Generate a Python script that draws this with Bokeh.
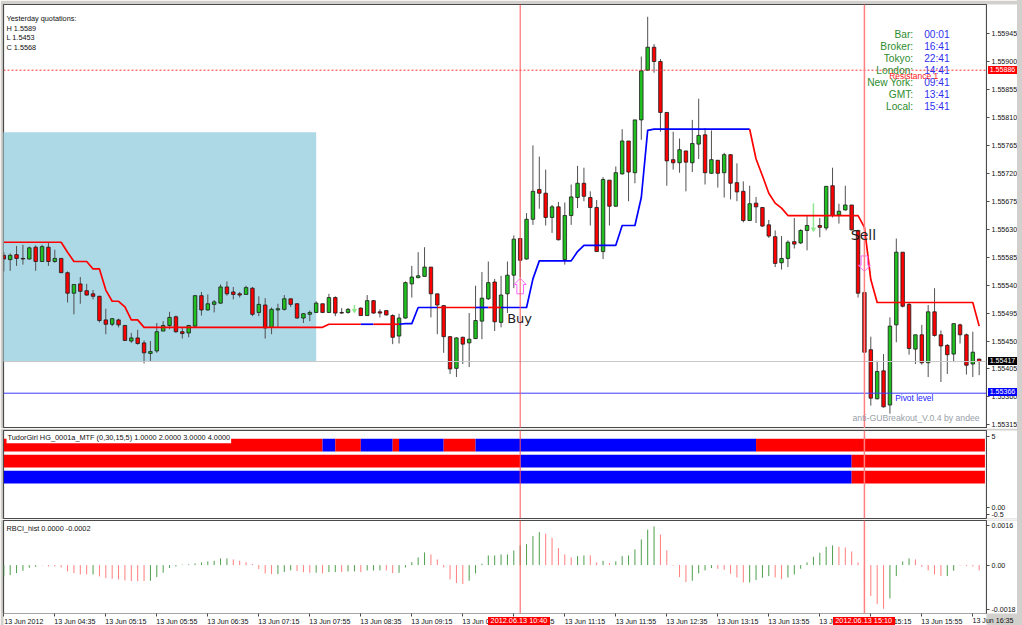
import numpy as np
from bokeh.plotting import figure
from bokeh.layouts import column
from bokeh.embed import file_html
from bokeh.resources import INLINE
from bokeh.models import Range1d, FixedTicker, Span, Label, Div

# ---------- data: prices are given as points above 1.50000 (1 = 0.00001) ----------
candle_high = [5593,5591,5603,5605,5602,5604,5605,5608,5597,5583,5562,5541,5553,5542,5532,5523,5502,5487,5486,5476,5463,5468,5451,5450,5479,5482,5497,5491,5472,5476,
 5524,5529,5525,5516,5541,5546,5537,5529,5539,5537,5522,5519,5504,5510,5524,5518,5511,5495,5499,5514,5510,5526,5522,5503,5503,5508,5504,5524,5516,5501,
 5499,5493,5494,5546,5571,5593,5601,5569,5526,5508,5458,5456,5457,5495,5539,5561,5578,5550,5555,5578,5620,5616,5656,5765,5747,5726,5669,5674,5673,5702,
 5732,5729,5691,5677,5714,5709,5731,5791,5772,5806,5908,5972,5928,5904,5818,5787,5776,5756,5806,5840,5793,5789,5741,5753,5751,5736,5707,5700,5682,5665,
 5645,5628,5619,5612,5648,5630,5651,5672,5648,5699,5729,5671,5700,5669,5629,5531,5457,5418,5429,5488,5615,5593,5512,5460,5476,5508,5535,5467,5445,5478,
 5478,5462,5465,5421]
body_top = [5588,5588,5589,5583,5600,5601,5602,5601,5583,5583,5560,5541,5542,5531,5526,5522,5484,5486,5484,5475,5455,5455,5447,5433,5465,5475,5488,5489,5465,5475,
 5523,5523,5510,5513,5537,5537,5529,5526,5536,5535,5509,5508,5501,5502,5518,5518,5510,5494,5496,5511,5510,5520,5520,5496,5501,5499,5503,5515,5515,5497,
 5499,5491,5487,5544,5553,5555,5569,5569,5526,5507,5457,5455,5456,5453,5483,5519,5544,5545,5524,5556,5614,5615,5646,5691,5694,5688,5666,5666,5652,5682,
 5704,5704,5681,5665,5710,5709,5721,5772,5772,5806,5885,5923,5923,5900,5818,5742,5758,5756,5768,5781,5782,5742,5741,5750,5750,5705,5691,5671,5672,5665,
 5637,5618,5583,5609,5610,5628,5636,5630,5636,5699,5700,5659,5669,5669,5628,5528,5436,5401,5402,5474,5593,5593,5509,5460,5460,5497,5497,5460,5443,5478,
 5476,5460,5432,5421]
body_bottom = [5582,5581,5583,5582,5582,5578,5578,5578,5578,5560,5527,5527,5530,5524,5522,5483,5477,5477,5476,5451,5450,5446,5431,5430,5434,5466,5475,5465,5462,5463,
 5474,5500,5500,5509,5511,5526,5525,5524,5525,5493,5496,5471,5472,5500,5501,5509,5487,5487,5493,5496,5496,5496,5495,5495,5496,5499,5491,5491,5495,5495,
 5492,5456,5458,5487,5542,5552,5554,5526,5508,5457,5405,5406,5445,5447,5454,5482,5518,5481,5480,5526,5556,5580,5582,5646,5688,5649,5649,5613,5581,5652,
 5681,5683,5665,5594,5594,5667,5667,5719,5722,5721,5806,5886,5900,5818,5740,5737,5737,5738,5737,5767,5721,5720,5720,5721,5704,5690,5644,5644,5666,5635,
 5619,5575,5576,5583,5606,5608,5628,5630,5633,5632,5652,5653,5661,5629,5527,5432,5358,5357,5344,5347,5476,5506,5438,5437,5415,5415,5459,5442,5428,5429,
 5460,5411,5413,5417]
candle_low = [5562,5563,5571,5573,5581,5563,5578,5571,5576,5560,5512,5493,5510,5523,5517,5480,5461,5474,5472,5450,5447,5444,5414,5418,5431,5466,5469,5463,5454,5456,
 5472,5491,5499,5496,5510,5523,5517,5520,5525,5490,5490,5454,5461,5472,5499,5505,5486,5479,5482,5495,5495,5495,5490,5494,5494,5499,5491,5491,5494,5488,
 5491,5445,5446,5486,5520,5551,5554,5488,5461,5431,5397,5392,5413,5408,5453,5453,5516,5466,5472,5495,5535,5553,5581,5637,5663,5636,5624,5612,5573,5637,
 5664,5675,5636,5594,5582,5636,5666,5718,5675,5704,5774,5885,5882,5787,5700,5726,5721,5691,5722,5743,5702,5719,5697,5681,5678,5675,5641,5644,5640,5634,
 5616,5569,5565,5569,5599,5606,5596,5630,5617,5628,5649,5639,5660,5628,5520,5432,5346,5356,5343,5333,5448,5504,5428,5413,5412,5392,5457,5384,5397,5416,
 5446,5396,5392,5395]
candle_green_idx = {1,4,6,8,11,17,20,23,24,25,26,29,30,32,33,34,38,40,42,43,44,47,48,49,51,54,57,62,63,64,65,66,71,73,74,75,76,78,79,80,82,83,86,88,89,90,
 94,96,97,99,100,101,106,108,109,111,113,117,122,123,125,126,129,131,132,137,139,140,143,145,149,152}
light_arrow_idx = {55,127}

stop_line = [5609]*10 + [5593,5578,5578,5578,5566,5566,5532,5514,5514,5505,5484,5484] + [5472]*29 + [5477]*12 + [5478]*2 + \
 [5504]*18 + [5550,5579,5579,5579,5579,5579,5579,5594] + [5604]*6 + [5636]*3 + [5681,5789] + [5791]*16 + \
 [5743,5716,5688,5672,5664] + [5652]*12 + [5633,5549] + [5512]*16 + [5474]
stop_color = ["red"]*56+["blue"]*2+["red"]*4+["blue"]*6+["red"]*6+["blue"]*2+["red"]*2+["blue"]*39+["red"]*37

tudor_row_bounds = [
    [(0,50,"red"),(50,52,"blue"),(52,56,"red"),(56,61,"blue"),(61,62,"red"),(62,69,"blue"),(69,74,"red"),(74,118,"blue"),(118,153.9,"red")],
    [(0,81,"red"),(81,133,"blue"),(133,153.9,"red")],
    [(0,133,"blue"),(133,153.9,"red")],
]
tudor_row_tops = [4.80,3.68,2.55]
tudor_row_bottoms = [3.91,2.78,1.65]

rbci_values = [-4.62,-4.08,-3.26,-2.31,-1.09,-0.68,-0.14,-0.54,-0.54,-0.95,-2.58,-3.26,-3.81,-3.81,-3.81,-4.62,-5.30,-5.58,-5.85,-6.26,
 -6.53,-6.53,-6.53,-6.39,-4.90,-3.13,-1.22,-0.54,0.2,0.3,0.68,1.09,1.50,1.77,2.72,2.72,2.31,1.77,1.22,0.41,
 -1.63,-3.40,-3.67,-3.67,-2.86,-2.18,-2.45,-2.86,-3.13,-3.13,-3.40,-2.86,-2.86,-2.86,-2.58,-2.58,-2.86,-2.18,-2.18,-2.18,
 -2.18,-3.26,-3.13,-0.95,1.22,3.13,5.17,4.35,2.31,-0.95,-5.85,-7.34,-7.75,-6.39,-3.40,0.54,3.94,3.94,4.35,4.35,
 5.98,8.02,8.57,11.83,13.46,12.78,11.15,6.94,4.35,3.13,3.67,3.94,3.94,1.09,1.77,0.82,1.50,3.67,3.94,6.39,
 10.47,14.42,15.78,12.51,5.98,-0.27,-4.90,-6.94,-6.39,-3.40,-2.18,-1.22,-1.50,-1.90,-3.54,-5.03,-7.07,-7.07,-6.12,-5.17,
 -4.49,-5.03,-5.71,-5.03,-3.81,-1.50,1.09,3.40,5.03,7.48,8.02,7.48,7.21,5.58,1.09,-6.94,-12.65,-15.91,-17.82,-13.60,
 -4.49,1.50,2.72,2.31,-0.68,-2.18,-3.81,-4.49,-4.49,-2.31,-0.14,-0.41,-0.54,-2.18]
rbci_green_idx = set(list(range(0,6))+[14]+list(range(23,36))+[43,44,45,49,51,52,54,55,57,58,59,62,63,64,65,66,73,74,75,76,77,78,79,80,81,82,83,84,
 90,91,94,96,97,98,99,100,101,102,108,109,110,111,117,118,119,120,123,124,125,126,127,128,129,130,139,140,141,142,148,149])

time_tick_bars = list(range(0,153,8))
time_labels = ["13 Jun 2012","13 Jun 04:35","13 Jun 05:15","13 Jun 05:55","13 Jun 06:35","13 Jun 07:15","13 Jun 07:55","13 Jun 08:35","13 Jun 09:15",
 "13 Jun 09:55","13 Jun 10:35","13 Jun 11:15","13 Jun 11:55","13 Jun 12:35","13 Jun 13:15","13 Jun 13:55","13 Jun 14:35","13 Jun 15:15","13 Jun 15:55","13 Jun 16:35"]
price_ticks = [1.55945,1.55900,1.55855,1.55810,1.55765,1.55720,1.55675,1.55630,1.55585,1.55540,1.55495,1.55450,1.55405,1.55360,1.55315]
resistance, current_price, pivot = 1.55886, 1.55417, 1.55366
signal_bars = [81,135]
signal_times = ["2012.06.13 10:40","2012.06.13 15:10"]
buy_tip, sell_tip = 5551, 5562
box_bars, box_top, box_bottom = (-1,49), 5786, 5417
clock_names = ["Bar:","Broker:","Tokyo:","London:","New York:","GMT:","Local:"]
clock_values = ["00:01","16:41","22:41","14:41","09:41","13:41","15:41"]

n = len(candle_high)
assert n == 154 and len(stop_line) == 154 and len(rbci_values) == 154, (n, len(stop_line), len(rbci_values))
bars = np.arange(n)
price = lambda a: 1.5 + np.asarray(a, float)/1e5

# ---------- layout helpers (screen px -> scale) ----------
GRAY = "#d2d0cc"; EDGE = "#4a4a4a"
BX = lambda px: (px-3.3)/6.375
PY = lambda py: 1.55886-(py-69.7)/62115
MY = lambda py: 5-(py-435.5)/14.2
RY = lambda py: (564.6-py)/24500
xr = Range1d(BX(3), BX(986))
TF = "Liberation Sans"

def mkfig(h, top, fh, yr, bottom=0):
    p = figure(width=1022, height=h, frame_width=983, frame_height=fh, x_range=xr, y_range=yr,
               output_backend="svg", toolbar_location=None, y_axis_location="right",
               x_axis_location=("below" if bottom else None), min_border_left=3, min_border_right=36,
               min_border_top=top, min_border_bottom=bottom, border_fill_color=GRAY,
               background_fill_color="white", outline_line_color=EDGE, outline_line_width=1.2)
    p.grid.visible = False
    ax = p.yaxis[0]
    ax.major_tick_out = 3; ax.major_tick_in = 0; ax.minor_tick_out = 0; ax.minor_tick_in = 0
    ax.major_label_standoff = 2; ax.major_label_text_font = TF; ax.major_label_text_font_size = "7.1px"
    ax.major_label_text_color = "#111111"; ax.axis_line_color = EDGE; ax.major_tick_line_color = EDGE
    ax.background_fill_color = "white"
    return p

def lab(p, x, y, text, color="#111111", size="7.3px", align="left", font=TF, bg=None, pad=0):
    p.add_layout(Label(x=x, y=y, text=text, text_color=color, text_font_size=size, text_align=align,
                       text_baseline="middle", text_font=font, background_fill_color=bg, padding=pad))

def tag(text, left, top, w, h, bg=None, color="white", size="7.1px"):
    st = {"position":"absolute","left":f"{left}px","top":f"{top}px","color":color,"font-size":size,
          "font-family":TF,"line-height":f"{h}px","text-align":"center","white-space":"nowrap","z-index":"5"}
    if bg: st["background-color"] = bg
    return Div(text=text, width=w, height=h, styles=st, margin=0)

# ---------- main pane ----------
pm = mkfig(428, 4, 424, Range1d(PY(428), PY(4)))
pm.yaxis[0].ticker = FixedTicker(ticks=price_ticks)
pm.yaxis[0].major_label_overrides = {t: f"{t:.5f}" for t in price_ticks}
pm.quad(left=[box_bars[0]], right=[box_bars[1]], top=price([box_top]), bottom=price([box_bottom]), color="#add8e6", line_color=None)
pm.add_layout(Span(location=current_price, dimension="width", line_color="#c8c8c8", line_width=1))
pm.add_layout(Span(location=pivot, dimension="width", line_color="#3a3aff", line_width=1))
pm.add_layout(Span(location=resistance, dimension="width", line_color="#ff3030", line_width=1, line_dash="2 2"))

wick_color = ["#8fe88f" if i in light_arrow_idx else "#505050" for i in range(n)]
wick_w = [1.5 if i in light_arrow_idx else 1 for i in range(n)]
pm.segment(bars, price(candle_high), bars, price(candle_low), color=wick_color, line_width=wick_w)
real = [i for i in range(n) if i not in light_arrow_idx]
arrows = sorted(light_arrow_idx)
pm.vbar(x=[bars[i] for i in real], top=price([body_top[i] for i in real]), bottom=price([body_bottom[i] for i in real]), width=0.55,
        fill_color=["#20c020" if i in candle_green_idx else "#ff0000" for i in real], line_color="#1a1a1a", line_width=0.8)
pm.scatter([bars[i] for i in arrows], price([candle_low[i] for i in arrows]), marker="inverted_triangle", size=4, color="#8fe88f")

# stop line, one stretch per colour
runs_x, runs_y, runs_c = [], [], []
s = 0
for i in range(1, n):
    if i == n-1 or stop_color[i] != stop_color[s]:
        runs_x.append(list(bars[s:i+1])); runs_y.append(list(price(stop_line[s:i+1]))); runs_c.append(stop_color[s]); s = i
pm.multi_line(runs_x, runs_y, line_color=runs_c, line_width=1.7, line_join="round")

# signal arrows
ax_off = [0,0.94,0.52,0.52,-0.52,-0.52,-0.94,0]
ay_off = [0,-10,-10,-25,-25,-10,-10,0]
pm.line([signal_bars[0]+o for o in ax_off], price([buy_tip+o for o in ay_off]), line_color="#ff66ff", line_width=1)
pm.line([signal_bars[1]+o for o in ax_off], price([sell_tip-o for o in ay_off]), line_color="#ff66ff", line_width=1)

for b, w, c in ((signal_bars[0],1,"#ff5555"),(signal_bars[1],1.5,"#ff8080")):
    pm.add_layout(Span(location=b, dimension="height", line_color=c, line_width=w))

for t, y in zip(["Yesterday quotations:","H 1.5589","L 1.5453","C 1.5568"], [18,27.7,37,46.5]):
    lab(pm, BX(6), PY(y), t)
for i, (a, b) in enumerate(zip(clock_names, clock_values)):
    y = 34.3+12*i
    lab(pm, BX(912.7), PY(y), a, color="#2e8b2e", size="10.2px", align="right")
    lab(pm, BX(923.7), PY(y), b, color="#3030f0", size="10.2px")
lab(pm, BX(888.7), PY(75), "Resistance 1", color="#ff2020", size="8.5px")
lab(pm, BX(894.7), PY(397.7), "Pivot level", color="#2020ff", size="8.4px")
lab(pm, BX(852), PY(417.7), "anti-GUBreakout_V.0.4 by andee", color="#98a0a8", size="8.7px")
lab(pm, BX(506.7), PY(318), "Buy", color="#222222", size="13px", font="DejaVu Sans")
lab(pm, BX(850.3), PY(234.3), "Sell", color="#222222", size="14px", font="DejaVu Sans")

# ---------- TudorGirl pane ----------
pt = mkfig(91, 2, 88, Range1d(MY(518), MY(430)))
pt.min_border_bottom = 1
pt.yaxis[0].ticker = FixedTicker(ticks=[5,0,-0.5])
pt.yaxis[0].major_label_overrides = {5:"5", 0:"0.00", -0.5:"-0.5"}
pt.yaxis[0].axis_label = "\u00a0"
pt.yaxis[0].axis_label_text_font_size = "1px"
pt.yaxis[0].axis_label_standoff = 12
for segs, tp, bt in zip(tudor_row_bounds, tudor_row_tops, tudor_row_bottoms):
    pt.quad(left=[a[0] for a in segs], right=[a[1] for a in segs], top=tp, bottom=bt,
            fill_color=[a[2] for a in segs], line_color=None)
for b, w, c in ((signal_bars[0],1,"#ff5555"),(signal_bars[1],1.5,"#ff8080")):
    pt.add_layout(Span(location=b, dimension="height", line_color=c, line_width=w))
lab(pt, BX(6), MY(437.3), "TudorGirl HG_0001a_MTF (0,30,15,5) 1.0000 2.0000 3.0000 4.0000", size="7.35px", bg="white", pad=1)

# ---------- RBCI pane ----------
pr = mkfig(106, 1, 93, Range1d(RY(613), RY(520)), bottom=12)
pr.yaxis[0].ticker = FixedTicker(ticks=[0.0016,0,-0.0018])
pr.yaxis[0].major_label_overrides = {0.0016:"0.0016", 0:"0.00", -0.0018:"-0.0018"}
rbci = np.asarray(rbci_values)/1e4
pr.segment(bars, 0*rbci, bars, rbci, color=["#4e9e4e" if i in rbci_green_idx else "#ff7d7d" for i in range(n)], line_width=1)
for b, w, c in ((signal_bars[0],1,"#ff5555"),(signal_bars[1],1.5,"#ff8080")):
    pr.add_layout(Span(location=b, dimension="height", line_color=c, line_width=w))
lab(pr, BX(6), RY(528.3), "RBCI_hist 0.0000 -0.0002", size="7.3px")
xa = pr.xaxis[0]
offset = 3.15
label_pos = [b+offset for b in time_tick_bars[:-1]]
xa.ticker = FixedTicker(ticks=label_pos, minor_ticks=time_tick_bars)
xa.major_label_overrides = {float(k): v for k, v in zip(label_pos, time_labels)}
xa.major_tick_out = 0; xa.major_tick_in = 0; xa.minor_tick_out = 3; xa.minor_tick_in = 0
xa.minor_tick_line_color = EDGE; xa.axis_line_color = None
xa.major_label_standoff = 1; xa.major_label_text_font = TF; xa.major_label_text_font_size = "7.1px"
xa.major_label_text_color = "#111111"; xa.background_fill_color = "white"

# tags that sit outside the plot frames
tags = [
    tag(f"{resistance:.5f}", 988, 65.7, 29, 8, bg="#ff0000"),
    tag(f"{current_price:.5f}", 988, 356.5, 29, 8, bg="#000000"),
    tag(f"{pivot:.5f}", 988, 388, 29, 8, bg="#0000ff"),
    tag(signal_times[0], 488, 616.7, 62, 8, bg="#ff0000", size="7.3px"),
    tag(signal_times[1], 832.7, 616.7, 62, 8, bg="#ff0000", size="7.3px"),
    tag(time_labels[-1], 972, 616.5, 42, 8, color="#111111"),
    tag("", 1017, 0, 5, 625, bg=GRAY),
]
layout = column(pm, pt, pr, *tags, spacing=0)
open("out.html", "w").write(file_html(layout, INLINE))
